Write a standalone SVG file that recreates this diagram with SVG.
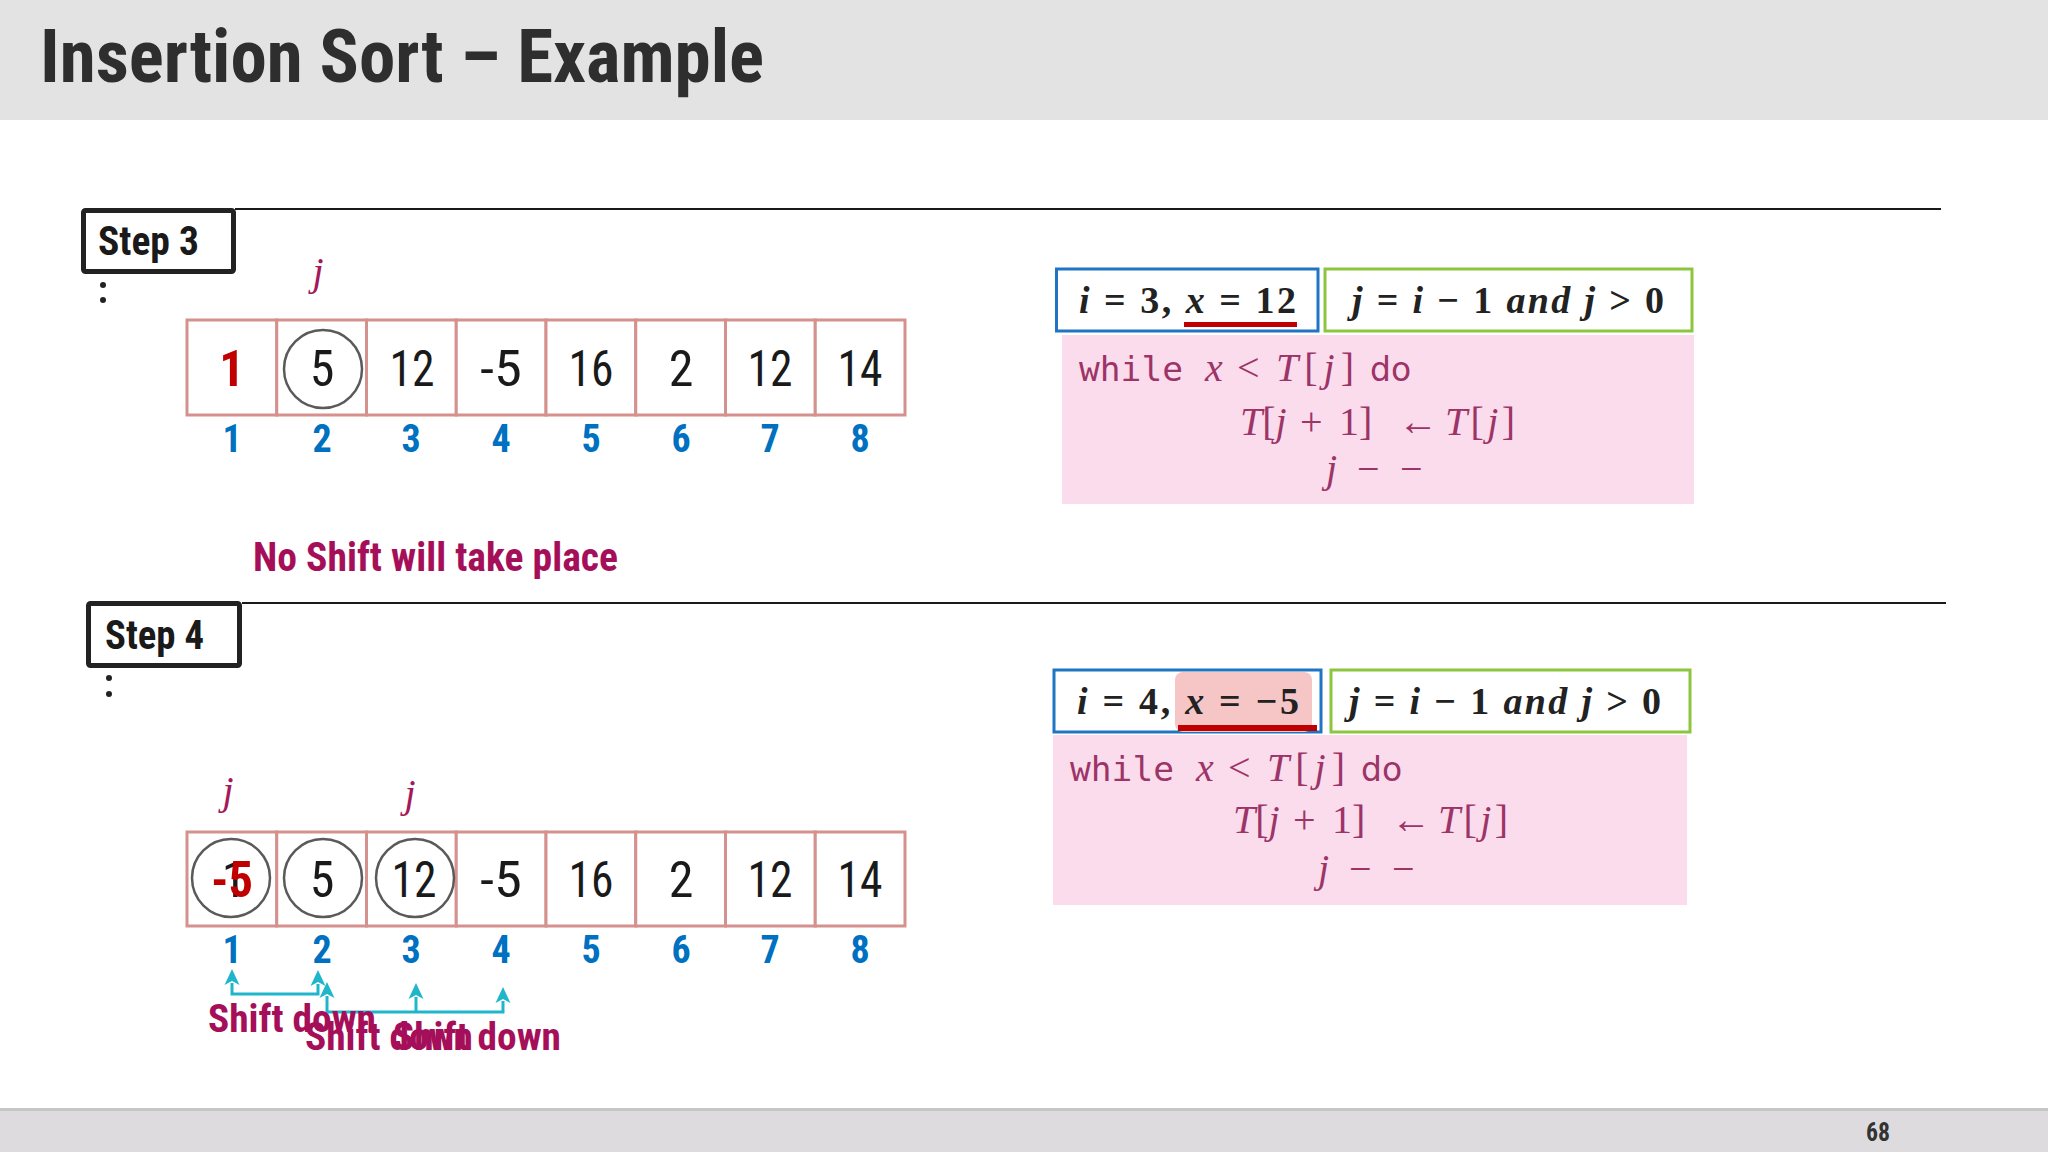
<svg xmlns="http://www.w3.org/2000/svg" width="2048" height="1152" viewBox="0 0 2048 1152">
<style>
.title{font-family:"Roboto Condensed",Roboto,"Liberation Sans",sans-serif;font-weight:bold;fill:#2e2e2e}
.step{font-family:"Roboto Condensed",Roboto,"Liberation Sans",sans-serif;font-weight:bold;fill:#1a1a1a;font-size:40px}
.stepbox{fill:#fff;stroke:#222;stroke-width:5}
.rule{stroke:#1a1a1a;stroke-width:2}
.cell{fill:#fff;stroke:#d4918e;stroke-width:3}
.num{font-family:"Roboto Condensed",Roboto,"Liberation Sans",sans-serif;font-size:50px;fill:#1a1a1a;text-anchor:middle}
.red{fill:#c00000;font-weight:bold}
.idx{font-family:"Roboto Condensed",Roboto,"Liberation Sans",sans-serif;font-size:38px;font-weight:bold;fill:#0070c0;text-anchor:middle}
.jlab{font-family:"Liberation Serif",serif;font-style:italic;font-size:40px;fill:#a3195b;text-anchor:middle}
.ring{fill:none;stroke:#5a5a5a;stroke-width:2.5}
.note{font-family:"Roboto Condensed",Roboto,"Liberation Sans",sans-serif;font-weight:bold;fill:#a50f5a}
.math{font-family:"Liberation Serif",serif;font-weight:bold;font-size:38px;fill:#222}
.code{fill:#fbdcec}
.codet{font-family:"Liberation Serif",serif;font-style:italic;font-size:40px;fill:#9c3468}
.up{font-style:normal}
.mono{font-family:"DejaVu Sans Mono",monospace;font-style:normal;font-size:33px}
.sans{font-family:"DejaVu Sans",sans-serif;font-style:normal;font-size:33px}
.blue{fill:#fff;stroke:#1f74c4;stroke-width:3}
.green{fill:#fff;stroke:#8cc63f;stroke-width:3}
.conn{fill:none;stroke:#1fb6cc;stroke-width:3}
</style>
<defs>
<marker id="ah" viewBox="0 -8 16 16" markerWidth="16" markerHeight="16" refX="2" refY="0" orient="auto-start-reverse" markerUnits="userSpaceOnUse">
<path d="M16,0 L0,-7.5 L4,0 L0,7.5 Z" fill="#1fb6cc"/>
</marker>
</defs>
<rect width="2048" height="1152" fill="#ffffff"/>
<g id="header">
<rect x="0" y="0" width="2048" height="120" fill="#e3e3e3"/>
<text class="title" x="40" y="82" font-size="75" textLength="724" lengthAdjust="spacingAndGlyphs">Insertion Sort – Example</text>
</g>
<g id="footer">
<rect x="0" y="1108" width="2048" height="44" fill="#dddbde"/>
<rect x="0" y="1108" width="2048" height="3" fill="#c6c6c6"/>
<text x="1878" y="1141" font-family="'Roboto Condensed',Roboto,sans-serif" font-weight="bold" font-size="26" fill="#333" text-anchor="middle" textLength="24" lengthAdjust="spacingAndGlyphs">68</text>
</g>

<g id="step3">
<line class="rule" x1="235" y1="209" x2="1941" y2="209"/>
<rect class="stepbox" x="83.5" y="210.5" width="150" height="61" rx="2"/>
<text class="step" x="98" y="255" textLength="101" lengthAdjust="spacingAndGlyphs">Step 3</text>
<circle cx="103" cy="285" r="3" fill="#222"/>
<circle cx="103" cy="300" r="3" fill="#222"/>
</g>
<g id="array3">
<rect class="cell" x="187" y="320" width="89.75" height="95"/>
<rect class="cell" x="276.75" y="320" width="89.75" height="95"/>
<rect class="cell" x="366.5" y="320" width="89.75" height="95"/>
<rect class="cell" x="456.25" y="320" width="89.75" height="95"/>
<rect class="cell" x="546" y="320" width="89.75" height="95"/>
<rect class="cell" x="635.75" y="320" width="89.75" height="95"/>
<rect class="cell" x="725.5" y="320" width="89.75" height="95"/>
<rect class="cell" x="815.25" y="320" width="89.75" height="95"/>
<circle class="ring" cx="323" cy="369" r="39"/>
<text class="num red" x="232" y="386">1</text>
<text class="num" x="322" y="386">5</text>
<text class="num" x="412" y="386" textLength="45" lengthAdjust="spacingAndGlyphs">12</text>
<text class="num" x="501" y="386" textLength="42" lengthAdjust="spacingAndGlyphs">-5</text>
<text class="num" x="591" y="386" textLength="45" lengthAdjust="spacingAndGlyphs">16</text>
<text class="num" x="681" y="386">2</text>
<text class="num" x="770" y="386" textLength="45" lengthAdjust="spacingAndGlyphs">12</text>
<text class="num" x="860" y="386" textLength="45" lengthAdjust="spacingAndGlyphs">14</text>
<text class="idx" x="232" y="452">1</text>
<text class="idx" x="322" y="452">2</text>
<text class="idx" x="411" y="452">3</text>
<text class="idx" x="501" y="452">4</text>
<text class="idx" x="591" y="452">5</text>
<text class="idx" x="681" y="452">6</text>
<text class="idx" x="770" y="452">7</text>
<text class="idx" x="860" y="452">8</text>
<text class="jlab" x="318" y="285">j</text>
<text class="note" x="253" y="571" font-size="40" textLength="365" lengthAdjust="spacingAndGlyphs">No Shift will take place</text>
</g>
<g id="code3">
<rect class="blue" x="1056.5" y="269" width="261.5" height="62"/>
<rect class="green" x="1325" y="269" width="367" height="62"/>
<text class="math" x="1079" y="313" textLength="217" lengthAdjust="spacing"><tspan font-style="italic">i</tspan> = 3, <tspan font-style="italic">x</tspan> = 12</text>
<rect x="1184" y="322" width="113" height="5" fill="#c00000"/>
<text class="math" x="1352" y="313" textLength="312" lengthAdjust="spacing"><tspan font-style="italic">j</tspan> = <tspan font-style="italic">i</tspan> − 1 <tspan font-style="italic">and j</tspan> &gt; 0</text>
<rect class="code" x="1062" y="335" width="632" height="169"/>
<text class="codet" y="381"><tspan class="mono" x="1079" textLength="104" lengthAdjust="spacingAndGlyphs">while</tspan><tspan x="1205">x</tspan><tspan class="up" x="1237">&lt;</tspan><tspan class="sans" x="1370">do</tspan></text>
<text class="codet" x="1276" y="381" textLength="78" lengthAdjust="spacing">T<tspan class="up">[</tspan>j<tspan class="up">]</tspan></text>
<text class="codet" y="435"><tspan x="1240">T</tspan><tspan class="up">[</tspan>j<tspan class="up" x="1300">+</tspan><tspan class="up" x="1339">1]</tspan><tspan class="up" x="1398">←</tspan></text>
<text class="codet" x="1445" y="435" textLength="70" lengthAdjust="spacing">T<tspan class="up">[</tspan>j<tspan class="up">]</tspan></text>
<text class="codet" y="482"><tspan x="1326">j</tspan><tspan class="up" x="1357">−</tspan><tspan class="up" x="1400">−</tspan></text>
</g>

<g id="step4">
<line class="rule" x1="242" y1="603" x2="1946" y2="603"/>
<rect class="stepbox" x="88.5" y="603.5" width="151" height="62" rx="2"/>
<text class="step" x="105" y="649" textLength="99" lengthAdjust="spacingAndGlyphs">Step 4</text>
<circle cx="109" cy="678" r="3" fill="#222"/>
<circle cx="109" cy="694" r="3" fill="#222"/>
</g>
<g id="array4">
<rect class="cell" x="187" y="832" width="89.75" height="94"/>
<rect class="cell" x="276.75" y="832" width="89.75" height="94"/>
<rect class="cell" x="366.5" y="832" width="89.75" height="94"/>
<rect class="cell" x="456.25" y="832" width="89.75" height="94"/>
<rect class="cell" x="546" y="832" width="89.75" height="94"/>
<rect class="cell" x="635.75" y="832" width="89.75" height="94"/>
<rect class="cell" x="725.5" y="832" width="89.75" height="94"/>
<rect class="cell" x="815.25" y="832" width="89.75" height="94"/>
<circle class="ring" cx="231" cy="878" r="39"/>
<circle class="ring" cx="323" cy="878" r="39"/>
<circle class="ring" cx="415" cy="878" r="39"/>
<text class="num" x="234" y="897">1</text>
<text class="num red" x="232" y="897" textLength="42" lengthAdjust="spacingAndGlyphs">-5</text>
<text class="num" x="322" y="897">5</text>
<text class="num" x="414" y="897" textLength="45" lengthAdjust="spacingAndGlyphs">12</text>
<text class="num" x="501" y="897" textLength="42" lengthAdjust="spacingAndGlyphs">-5</text>
<text class="num" x="591" y="897" textLength="45" lengthAdjust="spacingAndGlyphs">16</text>
<text class="num" x="681" y="897">2</text>
<text class="num" x="770" y="897" textLength="45" lengthAdjust="spacingAndGlyphs">12</text>
<text class="num" x="860" y="897" textLength="45" lengthAdjust="spacingAndGlyphs">14</text>
<text class="idx" x="232" y="963">1</text>
<text class="idx" x="322" y="963">2</text>
<text class="idx" x="411" y="963">3</text>
<text class="idx" x="501" y="963">4</text>
<text class="idx" x="591" y="963">5</text>
<text class="idx" x="681" y="963">6</text>
<text class="idx" x="770" y="963">7</text>
<text class="idx" x="860" y="963">8</text>
<text class="jlab" x="228" y="804">j</text>
<text class="jlab" x="410" y="807">j</text>
</g>
<g id="connectors">
<path class="conn" d="M232,983 L232,994 L318,994 L318,984" marker-start="url(#ah)" marker-end="url(#ah)"/>
<path class="conn" d="M327,996 L327,1012 L503,1012 L503,1001" marker-start="url(#ah)" marker-end="url(#ah)"/>
<path class="conn" d="M416,1012 L416,997" marker-end="url(#ah)"/>
</g>
<g id="shift-labels">
<text class="note" x="208" y="1032" font-size="38" textLength="168" lengthAdjust="spacingAndGlyphs">Shift down</text>
<text class="note" x="305" y="1050" font-size="38" textLength="168" lengthAdjust="spacingAndGlyphs">Shift down</text>
<text class="note" x="393" y="1050" font-size="38" textLength="168" lengthAdjust="spacingAndGlyphs">Shift down</text>
</g>
<g id="code4">
<rect class="blue" x="1054" y="670" width="267" height="62"/>
<rect x="1175" y="672" width="137" height="60" rx="8" fill="#f6c6c6"/>
<rect class="green" x="1331" y="670" width="359" height="62"/>
<text class="math" x="1077" y="714" textLength="222" lengthAdjust="spacing"><tspan font-style="italic">i</tspan> = 4, <tspan font-style="italic">x</tspan> = −5</text>
<rect x="1178" y="725" width="139" height="6" fill="#c00000"/>
<text class="math" x="1349" y="714" textLength="312" lengthAdjust="spacing"><tspan font-style="italic">j</tspan> = <tspan font-style="italic">i</tspan> − 1 <tspan font-style="italic">and j</tspan> &gt; 0</text>
<rect class="code" x="1053" y="735" width="634" height="170"/>
<text class="codet" y="781"><tspan class="mono" x="1070" textLength="104" lengthAdjust="spacingAndGlyphs">while</tspan><tspan x="1196">x</tspan><tspan class="up" x="1228">&lt;</tspan><tspan class="sans" x="1361">do</tspan></text>
<text class="codet" x="1267" y="781" textLength="78" lengthAdjust="spacing">T<tspan class="up">[</tspan>j<tspan class="up">]</tspan></text>
<text class="codet" y="833"><tspan x="1233">T</tspan><tspan class="up">[</tspan>j<tspan class="up" x="1293">+</tspan><tspan class="up" x="1332">1]</tspan><tspan class="up" x="1391">←</tspan></text>
<text class="codet" x="1438" y="833" textLength="70" lengthAdjust="spacing">T<tspan class="up">[</tspan>j<tspan class="up">]</tspan></text>
<text class="codet" y="882"><tspan x="1318">j</tspan><tspan class="up" x="1349">−</tspan><tspan class="up" x="1392">−</tspan></text>
</g>
</svg>
